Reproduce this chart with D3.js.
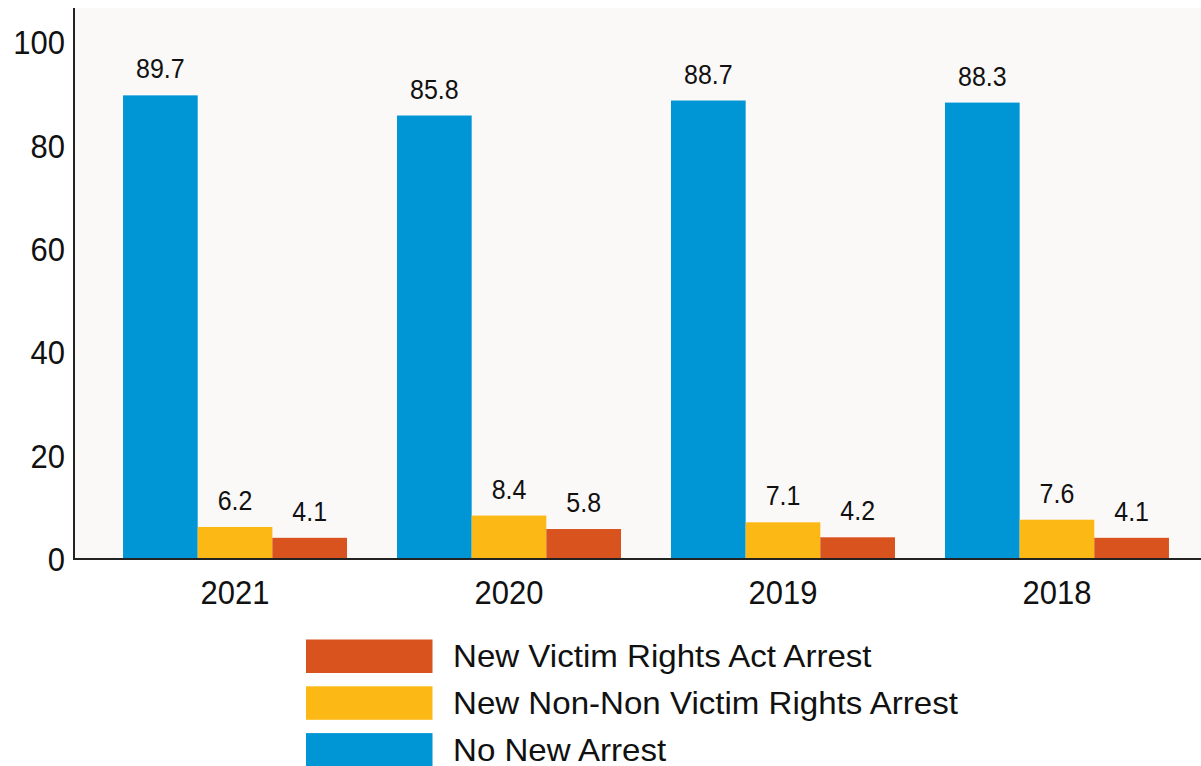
<!DOCTYPE html>
<html>
<head>
<meta charset="utf-8">
<script src="https://cdn.jsdelivr.net/npm/d3@7"></script>
<style>
  html, body { margin: 0; padding: 0; background: #ffffff; }
  svg { display: block; }
  text { font-family: "Liberation Sans", Arial, sans-serif; fill: #111; }
</style>
</head>
<body>
<svg id="chart" width="1201" height="766"></svg>
<script>
// Years shown along the bottom
const years = ["2021", "2020", "2019", "2018"];
// Series, in the order the bars sit within each year
const seriesNames = ["No New Arrest", "New Non-Non Victim Rights Arrest", "New Victim Rights Act Arrest"];
const noNewArrest = [89.7, 85.8, 88.7, 88.3];
const newNonVictimRights = [6.2, 8.4, 7.1, 7.6];
const newVictimRightsAct = [4.1, 5.8, 4.2, 4.1];
const yTicks = [0, 20, 40, 60, 80, 100];
// Legend order (top to bottom)
const legendOrder = ["New Victim Rights Act Arrest", "New Non-Non Victim Rights Arrest", "No New Arrest"];

const colors = {
  "No New Arrest": "#0096d6",
  "New Non-Non Victim Rights Arrest": "#fcb814",
  "New Victim Rights Act Arrest": "#d9531e"
};

const seriesValues = {
  "No New Arrest": noNewArrest,
  "New Non-Non Victim Rights Arrest": newNonVictimRights,
  "New Victim Rights Act Arrest": newVictimRightsAct
};

const svg = d3.select("#chart");
const W = 1201;
const plotLeft = 74, plotTop = 8, plotBottom = 559;
const stretch = 1.1; // axis and value text is drawn slightly tall

const y = d3.scaleLinear().domain([0, 106.6]).range([plotBottom, plotTop]);
const x0 = d3.scaleBand().domain(years).range([plotLeft, 1218]).paddingInner(0.1825).paddingOuter(0.179);
const x1 = d3.scaleBand().domain(seriesNames).range([0, x0.bandwidth()]).padding(0);

// plot background
svg.append("rect")
  .attr("x", plotLeft).attr("y", plotTop)
  .attr("width", W - plotLeft).attr("height", plotBottom - plotTop)
  .attr("fill", "#fbf9f8");

// bars
const groups = svg.append("g").selectAll("g")
  .data(years.map((yr, i) => ({ yr, i })))
  .join("g")
  .attr("transform", d => `translate(${x0(d.yr)},0)`);

groups.selectAll("rect")
  .data(d => seriesNames.map(s => ({ s, v: seriesValues[s][d.i] })))
  .join("rect")
  .attr("x", d => x1(d.s))
  .attr("y", d => y(d.v))
  .attr("width", x1.bandwidth())
  .attr("height", d => y(0) - y(d.v))
  .attr("fill", d => colors[d.s]);

// value labels
groups.selectAll("text")
  .data(d => seriesNames.map(s => ({ s, v: seriesValues[s][d.i] })))
  .join("text")
  .attr("text-anchor", "middle")
  .attr("transform", d => `translate(${x1(d.s) + x1.bandwidth() / 2},${y(d.v) - 17}) scale(1,${stretch})`)
  .style("font-size", "25px")
  .text(d => d.v.toFixed(1));

// y axis
const yAxis = d3.axisLeft(y).tickValues(yTicks).tickSize(0).tickPadding(9).tickFormat(d3.format("d"));
const gy = svg.append("g").attr("transform", `translate(${plotLeft},0)`).call(yAxis);
gy.select(".domain").remove();
gy.selectAll(".tick text")
  .attr("x", null).attr("dy", null)
  .attr("dominant-baseline", "central")
  .attr("transform", `translate(-9,0) scale(1,${stretch})`)
  .style("font-size", "31px")
  .style("font-family", "'Liberation Sans', Arial, sans-serif")
  .attr("fill", "#111");

// x axis labels
const xAxis = d3.axisBottom(x0).tickSize(0).tickPadding(0);
const gx = svg.append("g").attr("transform", `translate(0,${plotBottom})`).call(xAxis);
gx.select(".domain").remove();
gx.selectAll(".tick text")
  .attr("y", null).attr("dy", null)
  .attr("transform", `translate(0,45) scale(1,${stretch})`)
  .style("font-size", "31px")
  .style("font-family", "'Liberation Sans', Arial, sans-serif")
  .attr("fill", "#111");

// axis lines
svg.append("line").attr("x1", plotLeft).attr("x2", plotLeft).attr("y1", plotTop).attr("y2", plotBottom + 1)
  .attr("stroke", "#222").attr("stroke-width", 2);
svg.append("line").attr("x1", plotLeft).attr("x2", W).attr("y1", plotBottom).attr("y2", plotBottom)
  .attr("stroke", "#222").attr("stroke-width", 2);

// legend (text drawn slightly wide)
const legend = svg.append("g").attr("transform", "translate(306,639.5)");
const rows = legend.selectAll("g").data(legendOrder).join("g")
  .attr("transform", (d, i) => `translate(0,${i * 46.8})`);
rows.append("rect")
  .attr("x", 0).attr("y", 0).attr("width", 126.5).attr("height", 33.5)
  .attr("fill", d => colors[d]);
rows.append("text")
  .attr("transform", "translate(147,27.5) scale(1.085,1)")
  .style("font-size", "30.5px")
  .text(d => d);
</script>
</body>
</html>
